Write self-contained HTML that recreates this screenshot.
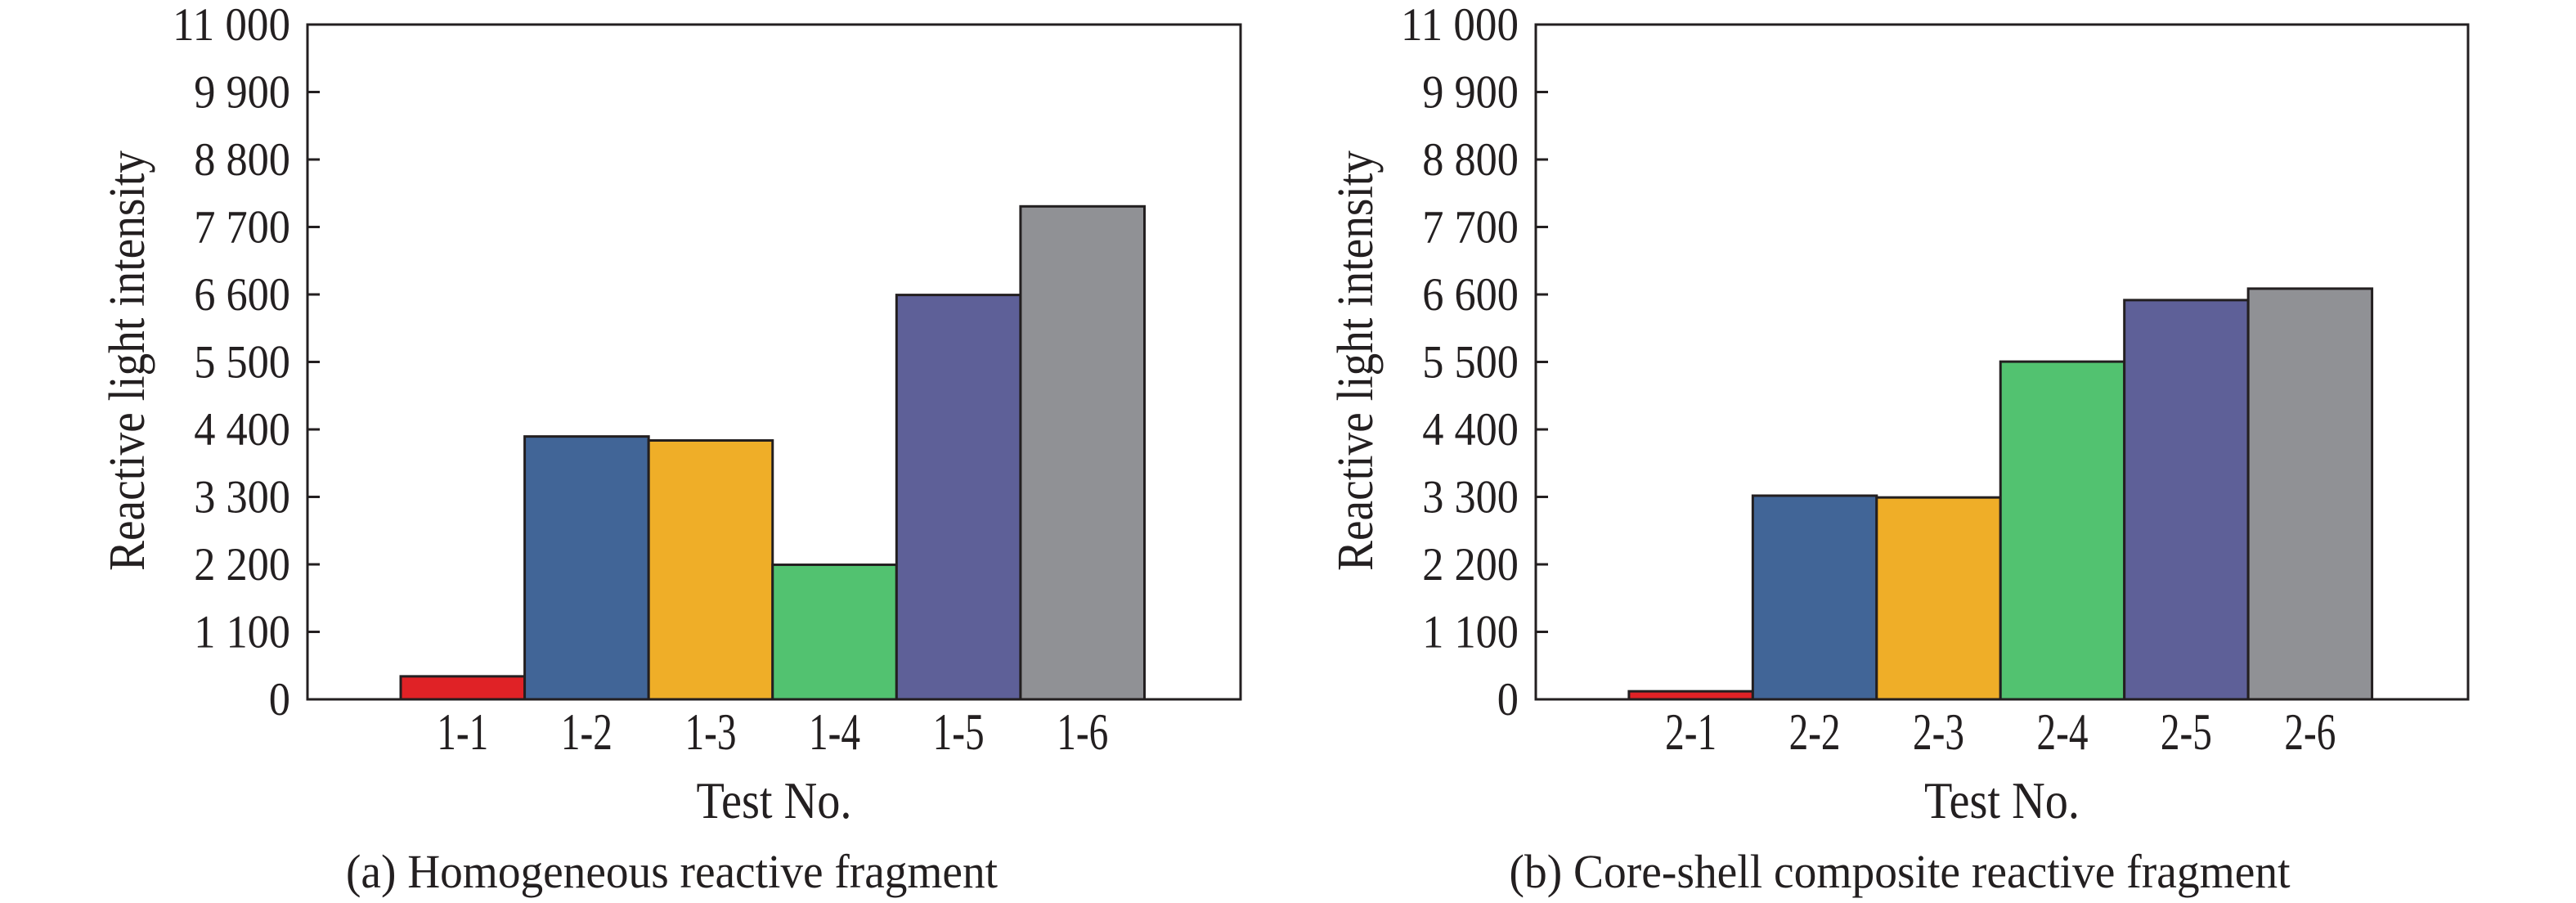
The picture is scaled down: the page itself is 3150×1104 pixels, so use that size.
<!DOCTYPE html>
<html><head><meta charset="utf-8">
<style>
html,body{margin:0;padding:0;background:#fff;}
svg{display:block;}
text{font-family:"Liberation Serif",serif;fill:#231f20;}
</style></head>
<body>
<svg id="chart" width="3150" height="1104" viewBox="0 0 3150 1104" xmlns="http://www.w3.org/2000/svg"></svg>
<script>
const categoriesA = ["1-1","1-2","1-3","1-4","1-5","1-6"];
const valuesA = [375, 4285, 4220, 2194, 6592, 8036];
const categoriesB = ["2-1","2-2","2-3","2-4","2-5","2-6"];
const valuesB = [131, 3320, 3291, 5505, 6508, 6695];
const tickValues = [0,1100,2200,3300,4400,5500,6600,7700,8800,9900,11000];
const tickLabels = ["0","1 100","2 200","3 300","4 400","5 500","6 600","7 700","8 800","9 900","11 000"];
const barColors = ["#e02226","#416597","#efae28","#52c270","#5e6098","#909195"];
const captionA = "(a) Homogeneous reactive fragment";
const captionB = "(b) Core-shell composite reactive fragment";

const NS = "http://www.w3.org/2000/svg";
const svg = document.getElementById("chart");
function mk(tag, attrs, parent){
  const e = document.createElementNS(NS, tag);
  for (const k in attrs) e.setAttribute(k, attrs[k]);
  (parent||svg).appendChild(e);
  return e;
}

function panel(id, left, right, cats, vals, caption, captionLen){
  const top = 30, bottom = 855, yMax = 11000;
  const g = mk("g", {});
  
  
  const y = v => bottom - (v / yMax) * (bottom - top);
  const W = right - left;
  const firstLeft = left + W * (114 / 1141);
  const bw = W * (909.5 / 1141) / cats.length;
  const x = i => firstLeft + i * bw;

  cats.forEach((c, i) => {
    const r = mk("rect", {x: x(i), y: y(vals[i]), width: bw, height: bottom - y(vals[i]),
      fill: barColors[i % barColors.length], stroke: "#231f20", "stroke-width": 3}, g);
    
    
  });
  const fr = mk("rect", {x: left, y: top, width: W, height: bottom - top, fill: "none", stroke: "#231f20", "stroke-width": 3}, g);
  
  

  tickValues.forEach((v, i) => {
    if (i > 0 && i < tickValues.length - 1) {
      const t = mk("line", {x1: left, x2: left + 15, y1: y(v), y2: y(v), stroke: "#231f20", "stroke-width": 3}, g);
      
      
    }
    const lab = tickLabels[i];
    const nd = lab.replace(/ /g, "").length, ns = lab.length - nd;
    const tl = mk("text", {x: left - 21, y: y(v) + 19, "font-size": 57, "text-anchor": "end",
      textLength: nd * 26.2 + ns * 13, lengthAdjust: "spacingAndGlyphs"}, g);
    tl.textContent = lab;
    
    
  });

  cats.forEach((c, i) => {
    const t = mk("text", {x: x(i) + bw / 2, y: 916, "font-size": 64, "text-anchor": "middle",
      textLength: 63, lengthAdjust: "spacingAndGlyphs"}, g);
    t.textContent = c;
    
    
  });

  const xt = mk("text", {x: (left + right) / 2, y: 1000, "font-size": 64, "text-anchor": "middle",
    textLength: 190, lengthAdjust: "spacingAndGlyphs"}, g);
  xt.textContent = "Test No.";
  
  

  const tx = left - 200, ty = 441;
  const yt = mk("text", {x: tx, y: ty, "font-size": 62, "text-anchor": "middle",
    transform: "rotate(-90 " + tx + " " + ty + ")", textLength: 514, lengthAdjust: "spacingAndGlyphs"}, g);
  yt.textContent = "Reactive light intensity";
  
  

  const cp = mk("text", {x: (left + right) / 2 - 125, y: 1085, "font-size": 58, "text-anchor": "middle",
    textLength: captionLen, lengthAdjust: "spacingAndGlyphs"}, g);
  cp.textContent = caption;
  
  
}

panel("homogeneous", 376, 1517, categoriesA, valuesA, captionA, 797);
panel("core-shell", 1878, 3018, categoriesB, valuesB, captionB, 955);
</script>
</body></html>
